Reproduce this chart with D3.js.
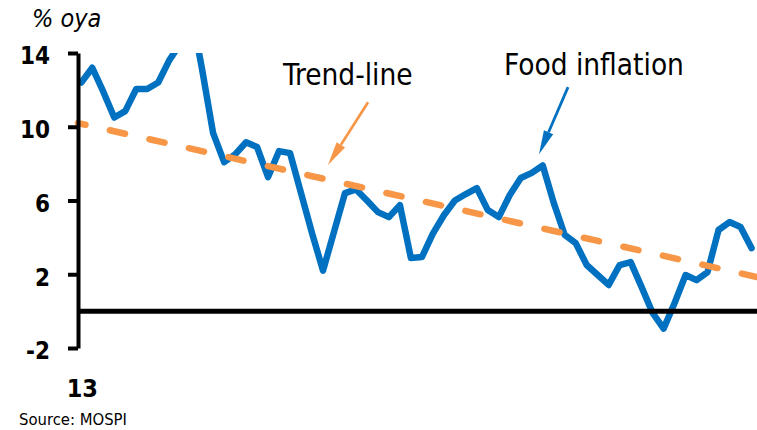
<!DOCTYPE html>
<html>
<head>
<meta charset="utf-8">
<script src="https://cdn.jsdelivr.net/npm/d3@7"></script>
<style>
  body { margin: 0; background: #fff; }
  text { font-family: "DejaVu Sans Condensed", "DejaVu Sans", sans-serif; font-stretch: condensed; }
</style>
</head>
<body>
<svg id="chart" width="757" height="430"></svg>
<script>
// Monthly food inflation, % over year ago, starting 2013
const foodInflation = [
  12.4, 13.2, 11.9, 10.5, 10.85, 12.05, 12.05, 12.4, 13.6, 14.5,
  16.3, 13.1, 9.65, 8.08, 8.5, 9.16, 8.9, 7.27, 8.68, 8.57,
  6.4, 4.23, 2.2, 4.3, 6.4, 6.6, 6.0, 5.37, 5.1, 5.75,
  2.88, 2.93, 4.2, 5.2, 6.0, 6.35, 6.67, 5.48, 5.1, 6.3,
  7.22, 7.5, 7.9, 5.87, 4.13, 3.69, 2.5, 1.96, 1.42, 2.5,
  2.66, 1.3, -0.1, -0.95, 0.44, 1.96, 1.68, 2.12, 4.4, 4.83,
  4.56, 3.42
];

// Linear trend, given at the two ends of the plotted span
const trendIndex = [-0.3, 61.5];
const trendValues = [10.2, 1.85];

const yTicks = [-2, 2, 6, 10, 14];
const xTickIndex = [0];
const xTickLabels = ["13"];

// Callouts: label anchor and arrow tail/tip in data units
const callouts = [
  { text: "Trend-line", color: "#F79646", labelAt: [18.36, 12.26], tail: [26.1, 11.33], tip: [22.45, 7.92] },
  { text: "Food inflation", color: "#0070C0", labelAt: [38.47, 12.8], tail: [44.3, 12.15], tip: [41.66, 8.51] }
];

const svg = d3.select("#chart");
const width = 757, height = 430;
const plot = { left: 78, right: 757, top: 53, bottom: 348 };

const x = d3.scaleLinear().domain([-0.3, 61.5]).range([plot.left, plot.right]);
const y = d3.scaleLinear().domain([-2, 14]).range([plot.bottom, plot.top]);

svg.append("defs").append("clipPath").attr("id", "plotClip")
  .append("rect")
  .attr("x", 0).attr("y", plot.top)
  .attr("width", width).attr("height", height - plot.top);

// Food inflation series
const line = d3.line().x((d, i) => x(i)).y(d => y(d));
svg.append("path")
  .datum(foodInflation)
  .attr("clip-path", "url(#plotClip)")
  .attr("fill", "none")
  .attr("stroke", "#0070C0")
  .attr("stroke-width", 6.5)
  .attr("stroke-linejoin", "round")
  .attr("stroke-linecap", "round")
  .attr("d", line);

// Zero line
svg.append("line")
  .attr("x1", plot.left).attr("x2", plot.right)
  .attr("y1", y(0)).attr("y2", y(0))
  .attr("stroke", "#000").attr("stroke-width", 5);

// Trend line
const trend = trendIndex.map((t, i) => [t, trendValues[i]]);
svg.append("path")
  .datum(trend)
  .attr("fill", "none")
  .attr("stroke", "#F79646")
  .attr("stroke-width", 6.5)
  .attr("stroke-linecap", "round")
  .attr("stroke-dasharray", "15.5,25")
  .attr("stroke-dashoffset", 7.8)
  .attr("d", d3.line().x(d => x(d[0])).y(d => y(d[1])));

// Y axis (plain hyphen for negatives)
const yAxis = svg.append("g")
  .attr("transform", `translate(${plot.left},0)`)
  .call(d3.axisLeft(y).tickValues(yTicks).tickSize(10).tickSizeOuter(0).tickPadding(18).tickFormat(d => String(d)));
yAxis.select(".domain").attr("stroke", "#000").attr("stroke-width", 4);
yAxis.selectAll(".tick line").attr("stroke", "#000").attr("stroke-width", 4);
yAxis.selectAll(".tick text")
  .attr("fill", "#000")
  .attr("dy", "0.45em")
  .style("font-size", "24px")
  .style("font-weight", "bold");

// X axis label
svg.selectAll(".xlabel")
  .data(xTickIndex)
  .join("text")
  .attr("class", "xlabel")
  .attr("x", d => x(d) + 1)
  .attr("y", 397)
  .attr("text-anchor", "middle")
  .style("font-size", "25px")
  .style("font-weight", "bold")
  .text((d, i) => xTickLabels[i]);

// Unit label
svg.append("text")
  .attr("x", 32).attr("y", 27)
  .style("font-size", "25px")
  .style("font-style", "italic")
  .text("% oya");

// Source
svg.append("text")
  .attr("x", 19).attr("y", 425)
  .style("font-size", "16.5px")
  .text("Source: MOSPI");

// Callout labels and arrows
callouts.forEach(c => {
  svg.append("text")
    .attr("x", x(c.labelAt[0])).attr("y", y(c.labelAt[1]))
    .style("font-size", "29.5px")
    .text(c.text);

  const x1 = x(c.tail[0]), y1 = y(c.tail[1]);
  const x2 = x(c.tip[0]), y2 = y(c.tip[1]);
  const ang = Math.atan2(y2 - y1, x2 - x1);
  const headLen = 24, headHalf = 5;
  const bx = x2 - headLen * Math.cos(ang), by = y2 - headLen * Math.sin(ang);
  svg.append("line")
    .attr("x1", x1).attr("y1", y1).attr("x2", bx).attr("y2", by)
    .attr("stroke", c.color).attr("stroke-width", 2.75);
  const px = -Math.sin(ang) * headHalf, py = Math.cos(ang) * headHalf;
  svg.append("polygon")
    .attr("points", [[x2, y2], [bx + px, by + py], [bx - px, by - py]].map(p => p.join(",")).join(" "))
    .attr("fill", c.color);
});
</script>
</body>
</html>
